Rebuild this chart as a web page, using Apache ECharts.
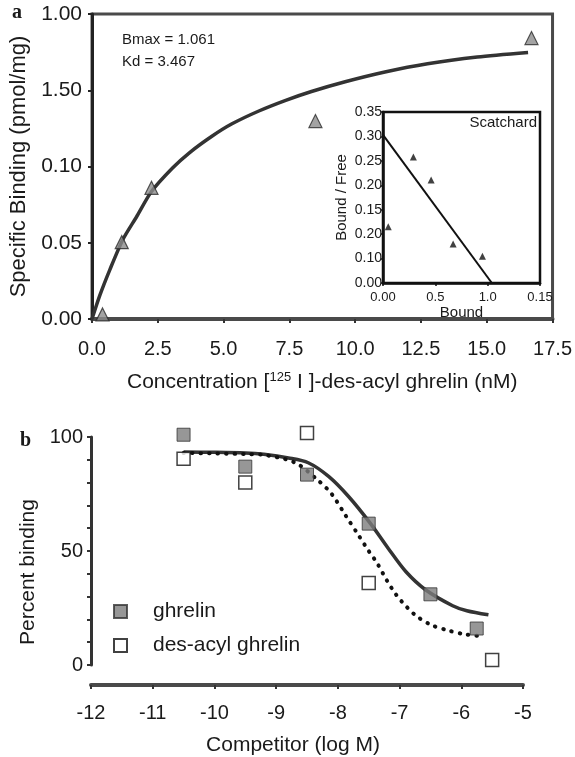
<!DOCTYPE html>
<html><head><meta charset="utf-8">
<script src="https://cdn.jsdelivr.net/npm/echarts@6/dist/echarts.min.js"></script>
<style>html,body{margin:0;padding:0;background:#fff}#c{width:575px;height:757px}</style>
</head><body><div id="c"></div><script>
// ---- Panel a: saturation binding ----
const aXLabels = ['0.0','2.5','5.0','7.5','10.0','12.5','15.0','17.5'];
const aYLabels = ['0.00','0.05','0.10','1.50','1.00'];
const aPointsX = [0.4, 1.13, 2.26, 8.49, 16.7];
const aPointsY = [0.015, 0.252, 0.43, 0.649, 0.921];
const aCurveX = [0, 0.3, 0.68, 1.17, 1.7, 2.26, 3.06, 3.7, 4.57, 5.32, 6.34, 7.36, 8.34, 9.62, 11.13, 12.75, 14.64, 16.57];
const aCurveY = [0, 0.078, 0.162, 0.26, 0.336, 0.418, 0.495, 0.545, 0.600, 0.640, 0.682, 0.717, 0.746, 0.778, 0.810, 0.837, 0.859, 0.874];
// ---- Inset: Scatchard ----
const insXLabels = ['0.00','0.5','1.0','0.15'];
const insYLabels = ['0.00','0.10','0.20','0.15','0.20','0.25','0.30','0.35'];
const insPointsX = [0.05, 0.29, 0.46, 0.67, 0.95];
const insPointsY = [0.115, 0.258, 0.211, 0.08, 0.055];
const insLineX = [0, 1.04];
const insLineY = [0.303, 0];
// ---- Panel b: competition ----
const bXLabels = ['-12','-11','-10','-9','-8','-7','-6','-5'];
const bYLabelValues = [0, 50, 100];
const ghrelinX = [-10.5, -9.5, -8.5, -7.5, -6.5, -5.75];
const ghrelinY = [101, 87, 83.5, 62, 31, 16];
const desacylX = [-10.5, -9.5, -8.5, -7.5, -5.5];
const desacylY = [90.5, 80, 101.7, 36, 2.2];
const solidX = [-10.5, -10, -9.5, -9.2, -8.8, -8.48, -8.15, -7.83, -7.47, -7.18, -6.9, -6.58, -6.14, -5.91, -5.56];
const solidY = [93.4, 93.3, 93, 92.4, 90.8, 88.7, 82.7, 74, 62, 51, 41, 33, 26, 23.8, 22];
const dotX = [-10.5, -10, -9.5, -9.22, -8.69, -8.3, -8.1, -7.87, -7.66, -7.5, -7.36, -7.2, -7.06, -6.97, -6.76, -6.5, -6.22, -5.93, -5.62];
const dotY = [93, 92.8, 92.5, 92.2, 88.7, 80.5, 75, 65.4, 56.7, 50, 44.5, 36.8, 31, 28, 22.2, 17.7, 15.2, 13.4, 12.5];

const zip = (xs, ys) => xs.map((x, i) => [x, ys[i]]);
const FF = 'Liberation Sans, Arial, Helvetica, sans-serif';
const TXT = '#1a1a1a';

const chart = echarts.init(document.getElementById('c'), null, {renderer: 'canvas'});
chart.setOption({
  animation: false,
  backgroundColor: '#fff',
  textStyle: {fontFamily: FF, color: TXT},
  title: [
    {text: 'a', left: 12, top: 3, padding: 0, textStyle: {fontFamily: 'Liberation Serif, serif', fontWeight: 'bold', fontSize: 20, color: TXT}},
    {text: 'b', left: 20, top: 431, padding: 0, textStyle: {fontFamily: 'Liberation Serif, serif', fontWeight: 'bold', fontSize: 20, color: TXT}},
    {text: 'Bmax = 1.061', left: 122, top: 32, padding: 0, textStyle: {fontFamily: FF, fontWeight: 'normal', fontSize: 15, color: TXT}},
    {text: 'Kd = 3.467', left: 122, top: 54, padding: 0, textStyle: {fontFamily: FF, fontWeight: 'normal', fontSize: 15, color: TXT}},
    {text: 'Scatchard', right: 38, top: 115, padding: 0, textStyle: {fontFamily: FF, fontWeight: 'normal', fontSize: 15, color: TXT}}
  ],
  legend: {
    data: ['ghrelin', 'des-acyl ghrelin'],
    orient: 'vertical', left: 108, top: 596,
    itemWidth: 13, itemHeight: 13, itemGap: 13,
    textStyle: {fontFamily: FF, fontSize: 21, color: TXT, padding: [0, 0, 0, 21]}
  },
  grid: [
    {left: 92, top: 14, width: 461, height: 305, show: true, borderColor: '#4a4a4a', borderWidth: 3, backgroundColor: 'transparent'},
    {left: 383, top: 112, width: 157, height: 171, show: true, borderColor: '#111', borderWidth: 2.5, backgroundColor: 'transparent'},
    {left: 91, top: 437, width: 432, height: 231}
  ],
  xAxis: [
    {gridIndex: 0, type: 'value', min: 0, max: 17.5, interval: 2.5,
     name: 'Concentration [{sup|125} I ]-des-acyl ghrelin (nM)', nameLocation: 'middle', nameGap: 52,
     nameTextStyle: {fontFamily: FF, fontSize: 21, color: TXT, rich: {sup: {fontFamily: FF, fontSize: 13, color: TXT, padding: [0, 0, 10, 0]}}},
     axisLine: {onZero: false, lineStyle: {color: '#4a4a4a', width: 4}},
     axisTick: {length: 4, lineStyle: {color: '#333', width: 2}},
     axisLabel: {fontFamily: FF, fontSize: 20, color: TXT, margin: 20, formatter: (v, i) => aXLabels[i]},
     splitLine: {show: false}},
    {gridIndex: 1, type: 'value', min: 0, max: 1.5, interval: 0.5,
     name: 'Bound', nameLocation: 'middle', nameGap: 19,
     nameTextStyle: {fontFamily: FF, fontSize: 15, color: TXT},
     axisLine: {onZero: false, lineStyle: {color: '#111', width: 2.5}},
     axisTick: {length: 3, lineStyle: {color: '#111', width: 1.5}},
     axisLabel: {fontFamily: FF, fontSize: 13, color: TXT, margin: 8, formatter: (v, i) => insXLabels[i]},
     splitLine: {show: false}},
    {gridIndex: 2, type: 'value', min: -12, max: -5, interval: 1, offset: 20,
     name: 'Competitor (log M)', nameLocation: 'middle', nameGap: 50,
     nameTextStyle: {fontFamily: FF, fontSize: 21, color: TXT, padding: [0, 28, 0, 0]},
     axisLine: {onZero: false, lineStyle: {color: '#4a4a4a', width: 4}},
     axisTick: {length: 4, lineStyle: {color: '#333', width: 2}},
     axisLabel: {fontFamily: FF, fontSize: 20, color: TXT, margin: 18, formatter: (v, i) => bXLabels[i]},
     splitLine: {show: false}}
  ],
  yAxis: [
    {gridIndex: 0, type: 'value', min: 0, max: 1, interval: 0.25,
     name: 'Specific Binding (pmol/mg)', nameLocation: 'middle', nameGap: 60,
     nameTextStyle: {fontFamily: FF, fontSize: 22, color: TXT},
     axisLine: {onZero: false, lineStyle: {color: '#222', width: 3}},
     axisTick: {length: 4, lineStyle: {color: '#222', width: 2}},
     axisLabel: {fontFamily: FF, fontSize: 21, color: TXT, margin: 10, formatter: (v, i) => aYLabels[i]},
     splitLine: {show: false}},
    {gridIndex: 1, type: 'value', min: 0, max: 0.35, interval: 0.05,
     name: 'Bound / Free', nameLocation: 'middle', nameGap: 34,
     nameTextStyle: {fontFamily: FF, fontSize: 15, color: TXT},
     axisLine: {onZero: false, lineStyle: {color: '#111', width: 2.5}},
     axisTick: {length: 2, lineStyle: {color: '#111', width: 1.5}},
     axisLabel: {fontFamily: FF, fontSize: 14, color: TXT, margin: 1, formatter: (v, i) => insYLabels[i]},
     splitLine: {show: false}},
    {gridIndex: 2, type: 'value', min: 0, max: 100, interval: 10,
     name: 'Percent binding', nameLocation: 'middle', nameGap: 52,
     nameTextStyle: {fontFamily: FF, fontSize: 21, color: TXT, padding: [0, 42, 0, 0]},
     axisLine: {onZero: false, lineStyle: {color: '#333', width: 3}},
     axisTick: {length: 4, lineStyle: {color: '#333', width: 2}},
     axisLabel: {fontFamily: FF, fontSize: 20, color: TXT, margin: 8,
       formatter: v => (bYLabelValues.indexOf(v) >= 0 ? String(v) : '')},
     splitLine: {show: false}}
  ],
  series: [
    {name: 'saturation fit', type: 'line', xAxisIndex: 0, yAxisIndex: 0, data: zip(aCurveX, aCurveY),
     showSymbol: false, smooth: 0.25, lineStyle: {color: '#333', width: 3.5}, z: 3},
    {name: 'specific binding', type: 'scatter', xAxisIndex: 0, yAxisIndex: 0, data: zip(aPointsX, aPointsY),
     clip: false, symbol: 'triangle', symbolSize: 13, itemStyle: {color: '#8c8c8c', borderColor: '#2a2a2a', borderWidth: 1.2}, z: 4},
    {name: 'scatchard fit', type: 'line', xAxisIndex: 1, yAxisIndex: 1, data: zip(insLineX, insLineY),
     showSymbol: false, lineStyle: {color: '#111', width: 2}},
    {name: 'scatchard points', type: 'scatter', xAxisIndex: 1, yAxisIndex: 1, data: zip(insPointsX, insPointsY),
     clip: false, symbol: 'triangle', symbolSize: 7, itemStyle: {color: '#111'}},
    {name: 'ghrelin fit', type: 'line', xAxisIndex: 2, yAxisIndex: 2, data: zip(solidX, solidY),
     showSymbol: false, smooth: 0.3, lineStyle: {color: '#333', width: 3.5}, z: 3},
    {name: 'des-acyl fit', type: 'line', xAxisIndex: 2, yAxisIndex: 2, data: zip(dotX, dotY),
     showSymbol: false, smooth: 0.3, lineStyle: {color: '#111', width: 4, type: [0.5, 8], cap: 'round'}, z: 3},
    {name: 'ghrelin', type: 'scatter', xAxisIndex: 2, yAxisIndex: 2, data: zip(ghrelinX, ghrelinY),
     clip: false, symbol: 'rect', symbolSize: 13, itemStyle: {color: '#7d7d7d', borderColor: '#333', borderWidth: 1}, z: 4},
    {name: 'des-acyl ghrelin', type: 'scatter', xAxisIndex: 2, yAxisIndex: 2, data: zip(desacylX, desacylY),
     clip: false, symbol: 'rect', symbolSize: 13, itemStyle: {color: '#fff', borderColor: '#111', borderWidth: 1.5}, z: 4}
  ]
});
</script></body></html>
